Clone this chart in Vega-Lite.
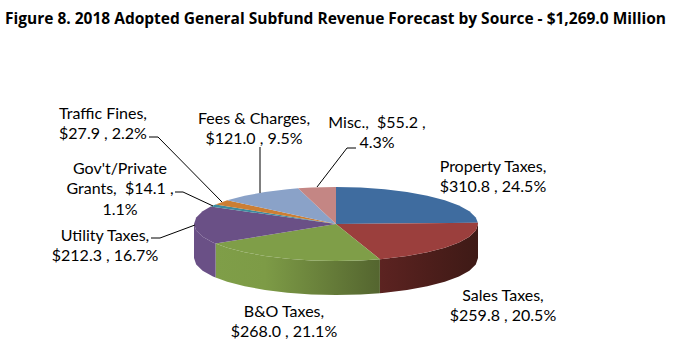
{"$schema":"https://vega.github.io/schema/vega-lite/v6.json","width":686,"height":356,"autosize":"none","padding":0,"background":"white",
"title":{"text":"Figure 8. 2018 Adopted General Subfund Revenue Forecast by Source - $1,269.0 Million","anchor":"start","frame":"group","font":"Open Sans","fontWeight":"bold","fontSize":15.5,"color":"#000000","offset":0,"dx":5,"dy":27},
"datasets":{
"wallSales":[{"i":0,"x":142,"y":0},{"i":1,"x":139.8,"y":-6.4},{"i":2,"x":133.4,"y":-12.7},{"i":3,"x":123,"y":-18.5},{"i":4,"x":108.8,"y":-23.8},{"i":5,"x":91.3,"y":-28.3},{"i":6,"x":71,"y":-32},{"i":7,"x":48.6,"y":-34.8},{"i":8,"x":43.9,"y":-35.2},{"i":9,"x":43.9,"y":-69.2},{"i":10,"x":48.6,"y":-68.8},{"i":11,"x":71,"y":-66},{"i":12,"x":91.3,"y":-62.3},{"i":13,"x":108.8,"y":-57.8},{"i":14,"x":123,"y":-52.5},{"i":15,"x":133.4,"y":-46.7},{"i":16,"x":139.8,"y":-40.4},{"i":17,"x":142,"y":-34}],
"wallBO":[{"i":0,"x":43.9,"y":-35.2},{"i":1,"x":24.7,"y":-36.4},{"i":2,"x":0,"y":-37},{"i":3,"x":-24.7,"y":-36.4},{"i":4,"x":-48.6,"y":-34.8},{"i":5,"x":-71,"y":-32},{"i":6,"x":-91.3,"y":-28.3},{"i":7,"x":-108.8,"y":-23.8},{"i":8,"x":-120.4,"y":-19.6},{"i":9,"x":-120.4,"y":-53.6},{"i":10,"x":-108.8,"y":-57.8},{"i":11,"x":-91.3,"y":-62.3},{"i":12,"x":-71,"y":-66},{"i":13,"x":-48.6,"y":-68.8},{"i":14,"x":-24.7,"y":-70.4},{"i":15,"x":0,"y":-71},{"i":16,"x":24.7,"y":-70.4},{"i":17,"x":43.9,"y":-69.2}],
"wallUtility":[{"i":0,"x":-120.4,"y":-19.6},{"i":1,"x":-123,"y":-18.5},{"i":2,"x":-133.4,"y":-12.7},{"i":3,"x":-139.8,"y":-6.4},{"i":4,"x":-142,"y":0},{"i":5,"x":-142,"y":-34},{"i":6,"x":-139.8,"y":-40.4},{"i":7,"x":-133.4,"y":-46.7},{"i":8,"x":-123,"y":-52.5},{"i":9,"x":-120.4,"y":-53.6}],
"faces":[
{"s":"Property Taxes","i":0,"x":0,"y":0},{"s":"Property Taxes","i":1,"x":0,"y":37},{"s":"Property Taxes","i":2,"x":24.7,"y":36.4},{"s":"Property Taxes","i":3,"x":48.6,"y":34.8},{"s":"Property Taxes","i":4,"x":71,"y":32},{"s":"Property Taxes","i":5,"x":91.3,"y":28.3},{"s":"Property Taxes","i":6,"x":108.8,"y":23.8},{"s":"Property Taxes","i":7,"x":123,"y":18.5},{"s":"Property Taxes","i":8,"x":133.4,"y":12.7},{"s":"Property Taxes","i":9,"x":139.8,"y":6.4},{"s":"Property Taxes","i":10,"x":141.9,"y":1.2},
{"s":"Sales Taxes","i":0,"x":0,"y":0},{"s":"Sales Taxes","i":1,"x":141.9,"y":1.2},{"s":"Sales Taxes","i":2,"x":142,"y":0},{"s":"Sales Taxes","i":3,"x":139.8,"y":-6.4},{"s":"Sales Taxes","i":4,"x":133.4,"y":-12.7},{"s":"Sales Taxes","i":5,"x":123,"y":-18.5},{"s":"Sales Taxes","i":6,"x":108.8,"y":-23.8},{"s":"Sales Taxes","i":7,"x":91.3,"y":-28.3},{"s":"Sales Taxes","i":8,"x":71,"y":-32},{"s":"Sales Taxes","i":9,"x":48.6,"y":-34.8},{"s":"Sales Taxes","i":10,"x":43.9,"y":-35.2},
{"s":"B&O Taxes","i":0,"x":0,"y":0},{"s":"B&O Taxes","i":1,"x":43.9,"y":-35.2},{"s":"B&O Taxes","i":2,"x":24.7,"y":-36.4},{"s":"B&O Taxes","i":3,"x":0,"y":-37},{"s":"B&O Taxes","i":4,"x":-24.7,"y":-36.4},{"s":"B&O Taxes","i":5,"x":-48.6,"y":-34.8},{"s":"B&O Taxes","i":6,"x":-71,"y":-32},{"s":"B&O Taxes","i":7,"x":-91.3,"y":-28.3},{"s":"B&O Taxes","i":8,"x":-108.8,"y":-23.8},{"s":"B&O Taxes","i":9,"x":-120.4,"y":-19.6},
{"s":"Utility Taxes","i":0,"x":0,"y":0},{"s":"Utility Taxes","i":1,"x":-120.4,"y":-19.6},{"s":"Utility Taxes","i":2,"x":-123,"y":-18.5},{"s":"Utility Taxes","i":3,"x":-133.4,"y":-12.7},{"s":"Utility Taxes","i":4,"x":-139.8,"y":-6.4},{"s":"Utility Taxes","i":5,"x":-142,"y":0},{"s":"Utility Taxes","i":6,"x":-139.8,"y":6.4},{"s":"Utility Taxes","i":7,"x":-133.4,"y":12.7},{"s":"Utility Taxes","i":8,"x":-125.3,"y":17.4},
{"s":"Gov't/Private Grants","i":0,"x":0,"y":0},{"s":"Gov't/Private Grants","i":1,"x":-125.3,"y":17.4},{"s":"Gov't/Private Grants","i":2,"x":-123,"y":18.5},{"s":"Gov't/Private Grants","i":3,"x":-120.4,"y":19.6},
{"s":"Traffic Fines","i":0,"x":0,"y":0},{"s":"Traffic Fines","i":1,"x":-120.4,"y":19.6},{"s":"Traffic Fines","i":2,"x":-108.8,"y":23.8},
{"s":"Fees & Charges","i":0,"x":0,"y":0},{"s":"Fees & Charges","i":1,"x":-108.8,"y":23.8},{"s":"Fees & Charges","i":2,"x":-91.3,"y":28.3},{"s":"Fees & Charges","i":3,"x":-71,"y":32},{"s":"Fees & Charges","i":4,"x":-48.6,"y":34.8},{"s":"Fees & Charges","i":5,"x":-37.9,"y":35.7},
{"s":"Misc.","i":0,"x":0,"y":0},{"s":"Misc.","i":1,"x":-37.9,"y":35.7},{"s":"Misc.","i":2,"x":-24.7,"y":36.4},{"s":"Misc.","i":3,"x":0,"y":37}],
"leaders":[
{"s":"Traffic Fines","i":0,"x":-187,"y":87},{"s":"Traffic Fines","i":1,"x":-178,"y":87},{"s":"Traffic Fines","i":2,"x":-114,"y":22},
{"s":"Gov't/Private Grants","i":0,"x":-161,"y":32},{"s":"Gov't/Private Grants","i":1,"x":-153,"y":32},{"s":"Gov't/Private Grants","i":2,"x":-123,"y":18},
{"s":"Utility Taxes","i":0,"x":-185,"y":-14},{"s":"Utility Taxes","i":1,"x":-176,"y":-14},{"s":"Utility Taxes","i":2,"x":-141,"y":-1},
{"s":"Fees & Charges","i":0,"x":-76,"y":77},{"s":"Fees & Charges","i":1,"x":-76,"y":31},
{"s":"Misc.","i":0,"x":20,"y":76},{"s":"Misc.","i":1,"x":11,"y":76},{"s":"Misc.","i":2,"x":-19,"y":37}],
"labels":[
{"t":"Property Taxes,\n$310.8 , 24.5%","x":157,"y":57.5},
{"t":"Sales Taxes,\n$259.8 , 20.5%","x":167,"y":-71.5},
{"t":"B&O Taxes,\n$268.0 , 21.1%","x":-52,"y":-87.5},
{"t":"Utility Taxes,\n$212.3 , 16.7%","x":-231,"y":-11.5},
{"t":"Gov't/Private\nGrants,\u00a0 $14.1 ,\n1.1%","x":-216,"y":55.5},
{"t":"Traffic Fines,\n$27.9 , 2.2%","x":-233,"y":110.5},
{"t":"Fees & Charges,\n$121.0 , 9.5%","x":-82,"y":105.5},
{"t":"Misc.,\u00a0 $55.2 ,\n4.3%","x":41,"y":101.5}]
},
"layer":[
{"data":{"name":"wallSales"},"mark":{"type":"line","interpolate":"linear-closed","stroke":null,"fill":{"gradient":"linear","x1":0,"y1":0,"x2":1,"y2":0,"stops":[{"offset":0,"color":"#5c2321"},{"offset":0.5,"color":"#4d1e1b"},{"offset":1,"color":"#3e1a16"}]}},"encoding":{"x":{"field":"x","type":"quantitative","axis":null,"scale":{"domain":[-336,350],"nice":false,"zero":false}},"y":{"field":"y","type":"quantitative","axis":null,"scale":{"domain":[-132,224],"nice":false,"zero":false}},"order":{"field":"i"}}},
{"data":{"name":"wallBO"},"mark":{"type":"line","interpolate":"linear-closed","stroke":null,"fill":{"gradient":"linear","x1":0,"y1":0,"x2":1,"y2":0,"stops":[{"offset":0,"color":"#7f9e48"},{"offset":0.3,"color":"#7d9b46"},{"offset":1,"color":"#54652f"}]}},"encoding":{"x":{"field":"x","type":"quantitative"},"y":{"field":"y","type":"quantitative"},"order":{"field":"i"}}},
{"data":{"name":"wallUtility"},"mark":{"type":"line","interpolate":"linear-closed","stroke":null,"fill":"#6a5086"},"encoding":{"x":{"field":"x","type":"quantitative"},"y":{"field":"y","type":"quantitative"},"order":{"field":"i"}}},
{"data":{"name":"faces"},"mark":{"type":"line","interpolate":"linear-closed","strokeWidth":0},"encoding":{"x":{"field":"x","type":"quantitative"},"y":{"field":"y","type":"quantitative"},"order":{"field":"i"},"detail":{"field":"s"},"fill":{"field":"s","type":"nominal","legend":null,"scale":{"domain":["Property Taxes","Sales Taxes","B&O Taxes","Utility Taxes","Gov't/Private Grants","Traffic Fines","Fees & Charges","Misc."],"range":["#3f6c9f","#9b3f3d","#7f9e48","#6a5086","#3d8a9e","#cc7e33","#8aa2c8","#c48684"]}}}},
{"data":{"name":"leaders"},"mark":{"type":"line","stroke":"#000000","strokeWidth":1,"fill":null},"encoding":{"x":{"field":"x","type":"quantitative"},"y":{"field":"y","type":"quantitative"},"order":{"field":"i"},"detail":{"field":"s"}}},
{"data":{"name":"labels"},"mark":{"type":"text","font":"Lato","fontSize":16,"lineBreak":"\n","lineHeight":20.5,"align":"center","baseline":"middle","color":"#000000"},"encoding":{"x":{"field":"x","type":"quantitative"},"y":{"field":"y","type":"quantitative"},"text":{"field":"t"}}}
],
"config":{"view":{"stroke":null}}}
